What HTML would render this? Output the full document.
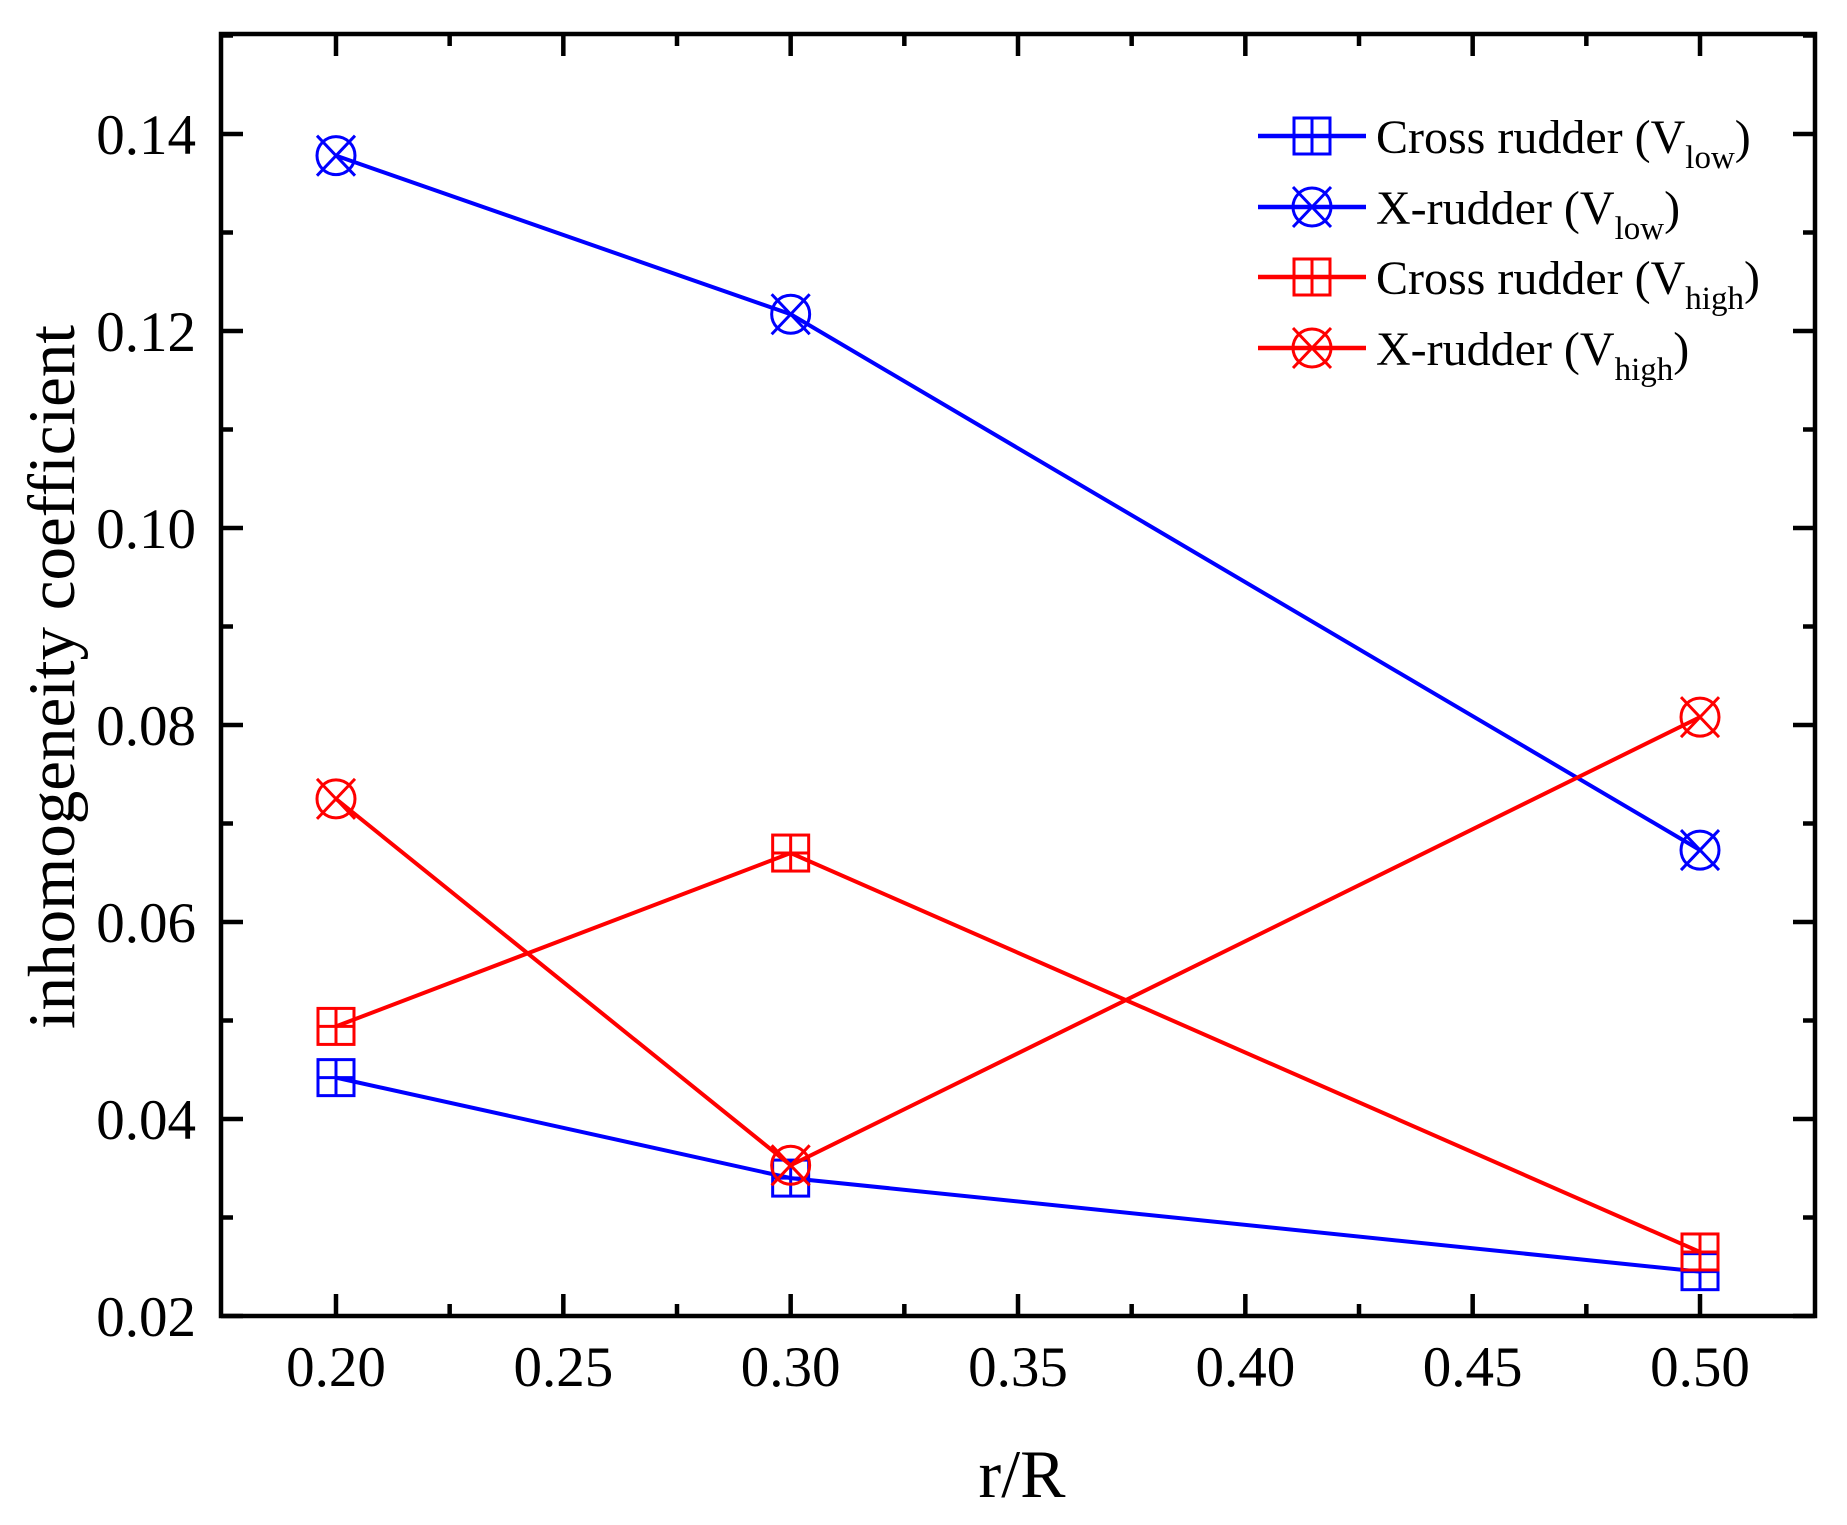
<!DOCTYPE html>
<html><head><meta charset="utf-8"><style>
html,body{margin:0;padding:0;background:#fff;}
svg{display:block;font-family:"Liberation Serif",serif;}
</style></head><body>
<svg id="chart" width="1847" height="1525" viewBox="0 0 1847 1525" xmlns="http://www.w3.org/2000/svg">
<rect width="1847" height="1525" fill="#fff"/>
<g id="marks"></g>
<rect x="221" y="34" width="1594" height="1282" fill="none" stroke="#000" stroke-width="4.5"/>
<g id="axes"></g>
<text transform="translate(74,677) rotate(-90)" text-anchor="middle" font-size="67">inhomogeneity coefficient</text>
<text x="1022" y="1497" text-anchor="middle" font-size="68">r/R</text>
<g id="legend"></g>
</svg>
<script>
const xCats = [0.2, 0.3, 0.5];
const crossLow = [0.0442, 0.0340, 0.0245];
const xLow = [0.1378, 0.1217, 0.0673];
const crossHigh = [0.0494, 0.0670, 0.0265];
const xHigh = [0.0725, 0.0353, 0.0808];
const xTicks = ["0.20","0.25","0.30","0.35","0.40","0.45","0.50"];
const yTicks = ["0.02","0.04","0.06","0.08","0.10","0.12","0.14"];
const legendLabels = [["Cross rudder (V","low",")"],["X-rudder (V","low",")"],["Cross rudder (V","high",")"],["X-rudder (V","high",")"]];

const NS="http://www.w3.org/2000/svg";
const X0=221,X1=1815,Y0=34,Y1=1316;
const xmin=0.2-115/4547, xmax=0.5+115/4547, ymin=0.02, ymax=0.02+1282/9850;
function sx(v){return X0+(v-xmin)/(xmax-xmin)*(X1-X0);}
function sy(v){return Y1-(v-ymin)/(ymax-ymin)*(Y1-Y0);}
function el(tag,attrs,parent){const e=document.createElementNS(NS,tag);for(const k in attrs)e.setAttribute(k,attrs[k]);parent.appendChild(e);return e;}
const axes=document.getElementById('axes'), marks=document.getElementById('marks'), legend=document.getElementById('legend');

for(let i=0;i<xTicks.length;i++){
  const v=parseFloat(xTicks[i]); const x=sx(v);
  let t=el('line',{x1:x,x2:x,y1:Y1,y2:Y1-22,stroke:'#000','stroke-width':4.5},axes);
  
  t=el('line',{x1:x,x2:x,y1:Y0,y2:Y0+22,stroke:'#000','stroke-width':4.5},axes);
  
  const lb=el('text',{x:x,y:1386,'text-anchor':'middle','font-size':57},axes);
  lb.textContent=xTicks[i];
  
  if(i<xTicks.length-1){const m=sx(v+0.025);
    el('line',{x1:m,x2:m,y1:Y1,y2:Y1-12,stroke:'#000','stroke-width':4.5},axes);
    el('line',{x1:m,x2:m,y1:Y0,y2:Y0+12,stroke:'#000','stroke-width':4.5},axes);}
}
for(let i=0;i<yTicks.length;i++){
  const v=parseFloat(yTicks[i]); const y=sy(v);
  let t=el('line',{x1:X0,x2:X0+22,y1:y,y2:y,stroke:'#000','stroke-width':4.5},axes);
  
  el('line',{x1:X1,x2:X1-22,y1:y,y2:y,stroke:'#000','stroke-width':4.5},axes);
  const lb=el('text',{x:196,y:y+20,'text-anchor':'end','font-size':57},axes);
  lb.textContent=yTicks[i];
  
  const m=sy(v+0.01);
  el('line',{x1:X0,x2:X0+12,y1:m,y2:m,stroke:'#000','stroke-width':4.5},axes);
  el('line',{x1:X1,x2:X1-12,y1:m,y2:m,stroke:'#000','stroke-width':4.5},axes);
}

function marker(type,x,y,color,parent){
  const g=el('g',{fill:'none',stroke:color,'stroke-width':3},parent);
  if(type==='sq'){
    el('rect',{x:x-18,y:y-18,width:36,height:36},g);
    el('line',{x1:x,x2:x,y1:y-18,y2:y+18},g);
    el('line',{x1:x-18,x2:x+18,y1:y,y2:y},g);
  } else {
    el('circle',{cx:x,cy:y,r:19},g);
    el('line',{x1:x-19,y1:y-20,x2:x+19,y2:y+20},g);
    el('line',{x1:x-19,y1:y+20,x2:x+19,y2:y-20},g);
  }
  return g;
}
const series=[[crossLow,'#0000ff','sq','series-cross-low'],[xLow,'#0000ff','x','series-x-low'],[crossHigh,'#ff0000','sq','series-cross-high'],[xHigh,'#ff0000','x','series-x-high']];
series.forEach(s=>{
  const pts=s[0].map((v,i)=>sx(xCats[i])+','+sy(v)).join(' ');
  const pl=el('polyline',{points:pts,fill:'none',stroke:s[1],'stroke-width':4},marks);
  
  s[0].forEach((v,i)=>{const m=marker(s[2],sx(xCats[i]),sy(v),s[1],marks);
    });
});

const ly=[136,207,277,348];
series.forEach((s,i)=>{
  const g=el('g',{},legend);
  
  el('line',{x1:1258,x2:1366,y1:ly[i],y2:ly[i],stroke:s[1],'stroke-width':4.5},g);
  marker(s[2],1312,ly[i],s[1],g);
  const t=el('text',{x:1376,y:ly[i]+17,'font-size':48},g);
  const a=el('tspan',{},t);a.textContent=legendLabels[i][0];
  const b=el('tspan',{dy:15,'font-size':33},t);b.textContent=legendLabels[i][1];
  const c=el('tspan',{dy:-15},t);c.textContent=legendLabels[i][2];
});
</script>
</body></html>
